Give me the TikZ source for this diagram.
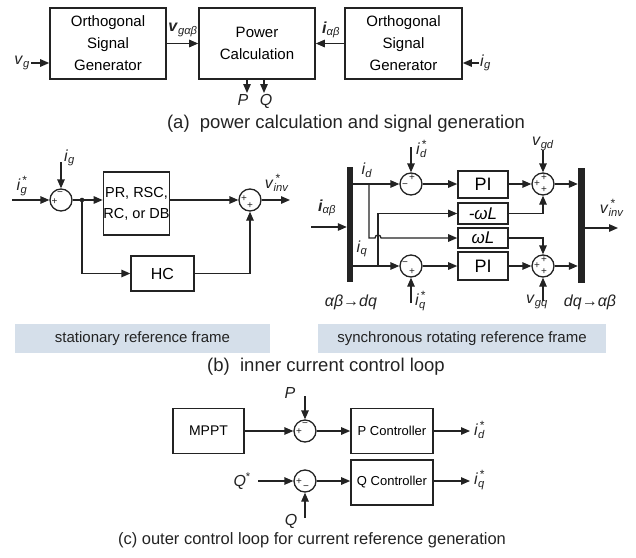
\documentclass[tikz,border=0pt]{standalone}
\usepackage{fontspec}
\setmainfont{Liberation Sans}
\usetikzlibrary{arrows.meta,calc}
\definecolor{shade}{RGB}{213,223,234}
\definecolor{ink}{RGB}{35,35,35}
\newcommand\vsym[2]{\textit{#1}\textsubscript{\textit{#2}}}
\newcommand\bsym[2]{\textbf{\textit{#1}}\textsubscript{\textit{#2}}}
\newcommand\ssym[2]{\textit{#1}\rlap{\textsuperscript{\,\large*}}\textsubscript{\textit{#2}}}
\tikzset{
  blk/.style={draw=ink, line width=1.6pt, fill=white, align=center, inner sep=0pt, font=\fontsize{15}{22}\selectfont},
  sumc/.style={draw=ink, circle, line width=1.3pt, minimum size=22pt, inner sep=0pt},
  sig/.style={draw=ink, -{Triangle[length=9pt,width=7.5pt]}, line width=1.3pt},
  ln/.style={draw=ink, line width=1.3pt},
  lbl/.style={font=\fontsize{16}{18}\selectfont, inner sep=1pt, text=ink},
  sgn/.style={font=\fontsize{10}{10}\selectfont, inner sep=0pt, text=ink},
  barn/.style={fill=ink, draw=none, inner sep=0pt, minimum width=6pt},
  framebox/.style={fill=shade, draw=none, inner sep=0pt, font=\fontsize{15}{17}\selectfont, text=ink},
  captxt/.style={font=\fontsize{18.5}{20}\selectfont, inner sep=0pt, text=ink}
}
\begin{document}
\begin{tikzpicture}[x=1pt,y=-1pt]
\useasboundingbox (0,0) rectangle (636,557);
% ---------------- (a) ----------------
\node[blk, minimum width=116pt, minimum height=71pt] (osgL) at (108,43.5) {Orthogonal\\Signal\\Generator};
\node[blk, minimum width=116pt, minimum height=71pt] (pc) at (257,43.5) {Power\\Calculation};
\node[blk, minimum width=117pt, minimum height=71pt] (osgR) at (403.5,43.5) {Orthogonal\\Signal\\Generator};
\coordinate (vgs) at (31,63);
\node[lbl, anchor=east] (vgl) at (vgs) {\vsym{v}{g}};
\draw[sig] (vgs) -- (osgL.west |- vgs);
\draw[sig] (osgL) -- (pc);
\node[lbl] (vgab) at (183,30) {\bsym{v}{gαβ}};
\draw[sig] (osgR) -- (pc);
\node[lbl] (iab) at (331,30) {\bsym{i}{αβ}};
\coordinate (igs) at (479,63);
\node[lbl, anchor=west] (igl) at (igs) {\vsym{i}{g}};
\draw[sig] (igs) -- (osgR.east |- igs);
\coordinate (pend) at (247,93);
\coordinate (qend) at (264,93);
\draw[sig] (pc.south -| pend) -- (pend);
\draw[sig] (pc.south -| qend) -- (qend);
\node[lbl, anchor=north] (pl) at (243,93) {\textit{P}};
\node[lbl, anchor=north] (ql) at (266,93) {\textit{Q}};
\node[captxt] (capa) at (346,124) {(a)\ \ power calculation and signal generation};
% ---------------- (b) left ----------------
\node[sumc] (s1) at (61,200) {};
\node[sgn] (s1a) at ($(s1)+(-6.5,1.5)$) {+};
\node[sgn] (s1b) at ($(s1)+(-1,-6.5)$) {−};
\coordinate (igsl) at (12,200);
\node[lbl] (igsll) at (22,186) {\ssym{i}{g}};
\draw[sig] (igsl) -- (s1);
\coordinate (igt) at (61,162);
\node[lbl, anchor=west] (igtl) at (63,158) {\vsym{i}{g}};
\draw[sig] (igt) -- (s1);
\coordinate (dot) at (82,200);
\fill[ink] (dot) circle (2.3pt);
\node[blk, minimum width=57pt, minimum height=63pt, font=\fontsize{14.5}{21}\selectfont] (pr) at (136.5,203.5) {PR, RSC,\\RC, or DB};
\node[blk, minimum width=63pt, minimum height=35pt, line width=1.3pt, font=\fontsize{16}{20}\selectfont] (hc) at (162.5,273.5) {HC};
\node[sumc] (s2) at (250,200) {};
\node[sgn] (s2a) at ($(s2)+(-6,-1)$) {+};
\node[sgn] (s2b) at ($(s2)+(0,6)$) {+};
\coordinate (vo1) at (290,200);
\node[lbl] (vo1l) at (277,183) {\ssym{v}{inv}};
\draw[ln] (s1) -- (dot);
\draw[sig] (dot) -- (pr.west |- dot);
\draw[sig] (pr.east |- s2) -- (s2);
\draw[sig] (s2) -- (vo1);
\draw[sig] (dot) |- (hc);
\draw[sig] (hc) -| (s2);
% ---------------- (b) right ----------------
\node[barn, minimum height=115pt] (b1) at (350,224.5) {};
\node[barn, minimum height=115pt, minimum width=7pt] (b2) at (581.5,225.5) {};
\coordinate (iabs) at (311,227);
\node[lbl] (iabl) at (327,208) {\bsym{i}{αβ}};
\draw[sig] (iabs) -- (b1.west |- iabs);
\node[sumc] (sd) at (411,184) {};
\node[sumc] (sq) at (411,266) {};
\node[sgn] (sda) at ($(sd)+(1,-6.5)$) {+};
\node[sgn] (sdb) at ($(sd)+(-6,2)$) {−};
\node[sgn] (sqa) at ($(sq)+(-6,-2)$) {−};
\node[sgn] (sqb) at ($(sq)+(1,6)$) {+};
\node[blk, minimum width=50pt, minimum height=27pt, font=\fontsize{18}{20}\selectfont] (pi1) at (483,184.5) {PI};
\node[blk, minimum width=50pt, minimum height=21pt, font=\fontsize{17}{20}\selectfont\itshape] (mwl) at (483,213.5) {-ωL};
\node[blk, minimum width=50pt, minimum height=20pt, font=\fontsize{17}{20}\selectfont\itshape] (wl) at (483,238) {ωL};
\node[blk, minimum width=50pt, minimum height=28pt, font=\fontsize{18}{20}\selectfont] (pi2) at (483,266) {PI};
\node[sumc] (rd) at (543,184) {};
\node[sumc] (rq) at (543,266) {};
\node[sgn] (rda) at ($(rd)+(1,-6)$) {+};
\node[sgn] (rdb) at ($(rd)+(-6,0)$) {+};
\node[sgn] (rdc) at ($(rd)+(1,6)$) {+};
\node[sgn] (rqa) at ($(rq)+(1,-6)$) {+};
\node[sgn] (rqb) at ($(rq)+(-6,0)$) {+};
\node[sgn] (rqc) at ($(rq)+(1,6)$) {+};
\node[lbl] (idl) at (367,170) {\vsym{i}{d}};
\node[lbl] (iql) at (362,249) {\vsym{i}{q}};
\draw[sig] (b1.east |- sd) -- (sd);
\draw[sig] (b1.east |- sq) -- (sq);
\coordinate (idt) at (411,147);
\node[lbl, anchor=west] (idtl) at (415,149) {\ssym{i}{d}};
\draw[sig] (idt) -- (sd);
\coordinate (iqb) at (411,303);
\node[lbl, anchor=west] (iqbl) at (414,301) {\ssym{i}{q}};
\draw[sig] (iqb) -- (sq);
\draw[sig] (sd) -- (pi1.west |- sd);
\draw[sig] (sq) -- (pi2.west |- sq);
% cross couplings
\coordinate (jd) at (369,184);
\coordinate (jq) at (378,266);
\draw[sig] (jd) |- (375,238) arc (180:360:3) -- (wl.west);
\draw[sig] (jq) |- (mwl.west);
\draw[sig] (pi1.east |- rd) -- (rd);
\draw[sig] (pi2.east |- rq) -- (rq);
\draw[sig] (mwl.east) -| (rd);
\draw[sig] (wl.east) -| (rq);
\coordinate (vgdt) at (543,150);
\node[lbl, anchor=south] (vgdl) at (543,152) {\vsym{v}{gd}};
\draw[sig] (vgdt) -- (rd);
\coordinate (vgqb) at (543,301);
\node[lbl, anchor=north] (vgql) at (537,294) {\vsym{v}{gq}};
\draw[sig] (vgqb) -- (rq);
\draw[sig] (rd) -- (b2.west |- rd);
\draw[sig] (rq) -- (b2.west |- rq);
\coordinate (vo2) at (618,228);
\draw[sig] (b2.east |- vo2) -- (vo2);
\node[lbl] (vo2l) at (612,208) {\ssym{v}{inv}};
\node[lbl] (abdq) at (351,302) {\textit{αβ}→\textit{dq}};
\node[lbl] (dqab) at (590,302) {\textit{dq}→\textit{αβ}};
% frames
\node[framebox, minimum width=255pt, minimum height=29pt] (f1) at (142.5,338.5) {stationary reference frame};
\node[framebox, minimum width=288pt, minimum height=29pt] (f2) at (462,338.5) {synchronous rotating reference frame};
\node[captxt] (capb) at (326,367) {(b)\ \ inner current control loop};
% ---------------- (c) ----------------
\node[blk, minimum width=71pt, minimum height=45pt, font=\fontsize{14}{16}\selectfont] (mppt) at (208.5,431) {MPPT};
\node[sumc] (c1) at (305,431) {};
\node[sumc] (c2) at (305,481) {};
\node[sgn] (c1a) at ($(c1)+(-6,0.5)$) {+};
\node[sgn] (c1b) at ($(c1)+(0,-6.5)$) {−};
\node[sgn] (c2a) at ($(c2)+(-6,0.5)$) {+};
\node[sgn] (c2b) at ($(c2)+(1,6.5)$) {−};
\node[blk, minimum width=82pt, minimum height=45pt, font=\fontsize{13}{16}\selectfont] (pcon) at (392,431) {P Controller};
\node[blk, minimum width=82pt, minimum height=45pt, font=\fontsize{13}{16}\selectfont] (qcon) at (392,482.5) {Q Controller};
\coordinate (pt) at (305,396);
\node[lbl] (ptl) at (290,393) {\textit{P}};
\draw[sig] (pt) -- (c1);
\draw[sig] (mppt.east |- c1) -- (c1);
\draw[sig] (c1) -- (pcon.west |- c1);
\coordinate (ido) at (470,431);
\draw[sig] (pcon.east |- ido) -- (ido);
\node[lbl, anchor=west] (idol) at (473,430) {\ssym{i}{d}};
\coordinate (qs) at (258,481);
\node[lbl, anchor=east] (qsl) at (252,481) {\textit{Q}\textsuperscript{*}};
\draw[sig] (qs) -- (c2);
\draw[sig] (c2) -- (qcon.west |- c2);
\coordinate (iqo) at (470,481);
\draw[sig] (qcon.east |- iqo) -- (iqo);
\node[lbl, anchor=west] (iqol) at (473,480) {\ssym{i}{q}};
\coordinate (qb) at (305,518);
\node[lbl] (qbl) at (291,521) {\textit{Q}};
\draw[sig] (qb) -- (c2);
\node[captxt, font=\fontsize{16.5}{18}\selectfont] (capc) at (312,540) {(c) outer control loop for current reference generation};
\end{tikzpicture}
\end{document}
